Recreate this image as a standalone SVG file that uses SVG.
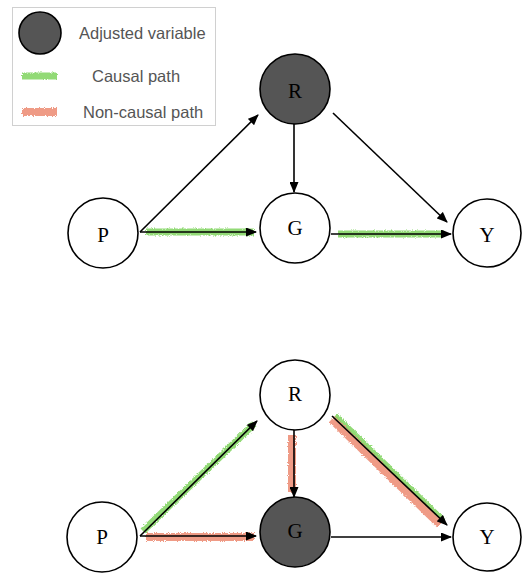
<svg xmlns="http://www.w3.org/2000/svg" width="522" height="574" viewBox="0 0 522 574">
  <defs>
    <marker id="arrow" markerUnits="userSpaceOnUse" markerWidth="11" markerHeight="9" refX="10" refY="4.5" orient="auto">
      <path d="M0,0 L11,4.5 L0,9 z" fill="#000"/>
    </marker>
    <!-- crayon-like roughness for path highlights -->
    <filter id="rough" filterUnits="userSpaceOnUse" x="0" y="0" width="522" height="574">
      <feTurbulence type="fractalNoise" baseFrequency="0.9" numOctaves="2" seed="3" result="noise"/>
      <feDisplacementMap in="SourceGraphic" in2="noise" scale="3.5" xChannelSelector="R" yChannelSelector="G"/>
    </filter>
  </defs>
  <style>
    .node { fill: #fff; stroke: #000; stroke-width: 1.6; }
    .adj { fill: #555; }
    .lbl { font-family: "Liberation Serif", "Times New Roman", serif; font-size: 21px; fill: #000; text-anchor: middle; dominant-baseline: central; }
    .edge { stroke: #000; stroke-width: 1.6; fill: none; marker-end: url(#arrow); }
    .hl { fill: none; stroke-linecap: butt; filter: url(#rough); }
    .causal { stroke: #7fd45e; stroke-opacity: 0.85; }
    .noncausal { stroke: #ec8a72; stroke-opacity: 0.85; }
    .legtext { font-family: "Liberation Sans", Arial, sans-serif; font-size: 16.5px; fill: #555; }
  </style>

  <rect width="522" height="574" fill="#fff"/>

  <!-- legend -->
  <g id="legend">
    <rect x="12.5" y="7.5" width="203" height="118" fill="#fff" stroke="#d0d0d0" stroke-width="1"/>
    <circle cx="40" cy="33" r="21" class="node adj"/>
    <text x="79" y="39" class="legtext">Adjusted variable</text>
    <line x1="22" y1="76" x2="57" y2="76" class="hl causal" stroke-width="7"/>
    <text x="92" y="82" class="legtext">Causal path</text>
    <line x1="22" y1="112" x2="57" y2="112" class="hl noncausal" stroke-width="8"/>
    <text x="83" y="118" class="legtext">Non-causal path</text>
  </g>

  <!-- path highlights -->
  <g id="highlights">
    <line x1="146" y1="232" x2="254" y2="232" class="hl causal" stroke-width="7"/>
    <line x1="338" y1="234" x2="444" y2="234" class="hl causal" stroke-width="7"/>

    <line x1="143" y1="531" x2="254" y2="424" class="hl causal" stroke-width="7"/>
    <line x1="146" y1="537" x2="254" y2="537" class="hl noncausal" stroke-width="8"/>
    <line x1="292" y1="435" x2="292" y2="492" class="hl noncausal" stroke-width="8"/>
    <line x1="332" y1="419" x2="440" y2="524" class="hl noncausal" stroke-width="9"/>
    <line x1="336" y1="415" x2="444" y2="520" class="hl causal" stroke-width="4"/>
  </g>

  <!-- connectors -->
  <g id="edges">
    <line x1="140" y1="232" x2="258" y2="115" class="edge"/>
    <line x1="294" y1="124" x2="294" y2="192" class="edge"/>
    <line x1="333" y1="113" x2="447" y2="222" class="edge"/>
    <line x1="140" y1="232" x2="256" y2="232" class="edge"/>
    <line x1="331" y1="234" x2="451" y2="234" class="edge"/>

    <line x1="140" y1="536" x2="257" y2="421" class="edge"/>
    <line x1="294" y1="430" x2="294" y2="497" class="edge"/>
    <line x1="332" y1="416" x2="447" y2="525" class="edge"/>
    <line x1="140" y1="536" x2="256" y2="536" class="edge"/>
    <line x1="331" y1="537" x2="451" y2="537" class="edge"/>
  </g>

  <!-- top diagram: R adjusted -->
  <g id="top-R"><circle cx="295" cy="89" r="35" class="node adj"/><text x="295" y="91" class="lbl">R</text></g>
  <g id="top-P"><circle cx="103" cy="233" r="35" class="node"/><text x="103" y="235" class="lbl">P</text></g>
  <g id="top-G"><circle cx="295" cy="228" r="35" class="node"/><text x="295" y="228" class="lbl">G</text></g>
  <g id="top-Y"><circle cx="487" cy="233" r="34" class="node"/><text x="487" y="235" class="lbl">Y</text></g>

  <!-- bottom diagram: G adjusted -->
  <g id="bot-R"><circle cx="295" cy="395" r="35" class="node"/><text x="295" y="394" class="lbl">R</text></g>
  <g id="bot-P"><circle cx="102" cy="537" r="35" class="node"/><text x="102" y="537" class="lbl">P</text></g>
  <g id="bot-G"><circle cx="295" cy="532" r="35" class="node adj"/><text x="295" y="531" class="lbl">G</text></g>
  <g id="bot-Y"><circle cx="487" cy="537" r="34" class="node"/><text x="487" y="537" class="lbl">Y</text></g>
</svg>
